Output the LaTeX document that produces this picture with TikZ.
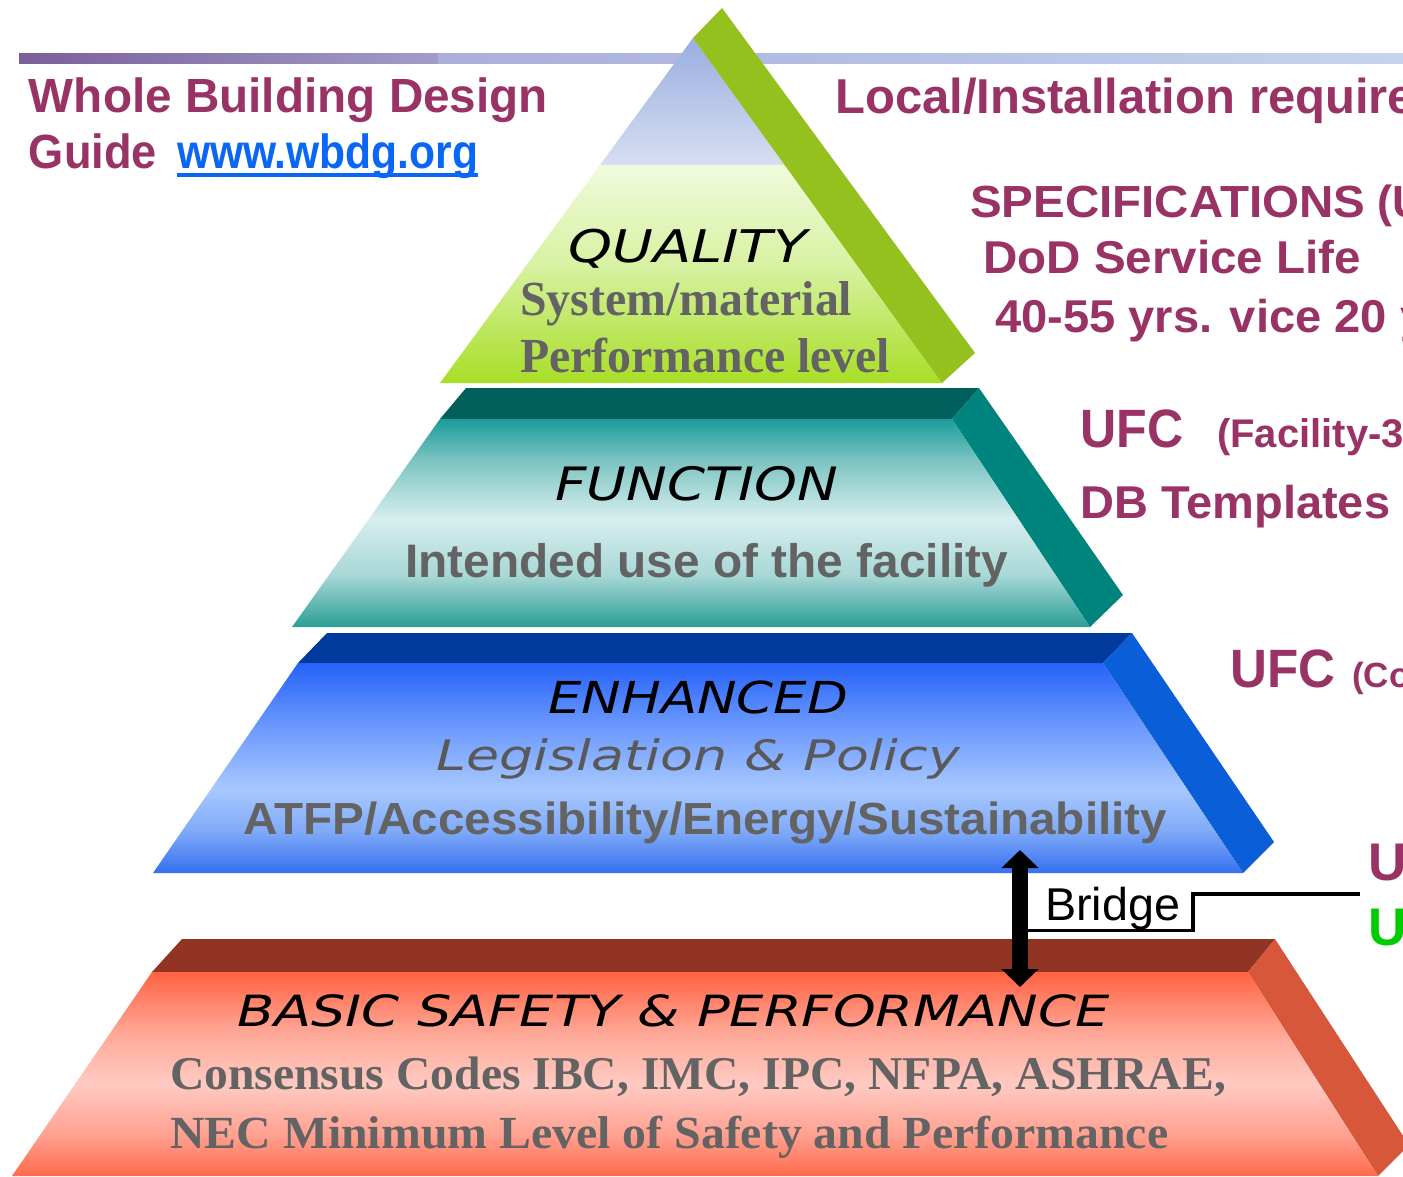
\documentclass[tikz,border=0pt]{standalone}
\usepackage{fontspec}
\setmainfont{Liberation Sans}
\newfontfamily\djv{DejaVu Sans}
\newfontfamily\lserif{Liberation Serif}
\usetikzlibrary{arrows.meta}
\definecolor{maroon}{HTML}{993366}
\definecolor{linkblue}{HTML}{0A66F5}
\definecolor{ugreen}{HTML}{00CC00}
\definecolor{txtgray}{HTML}{636363}
\definecolor{band1}{HTML}{7B5F9B}
\definecolor{band2}{HTML}{A29CC8}
\definecolor{band3}{HTML}{A9AEDB}
\definecolor{band4}{HTML}{C6D3EE}
\definecolor{lav1}{HTML}{98AEE0}
\definecolor{lav2}{HTML}{D8DEF2}
\definecolor{qg1}{HTML}{F0FADC}
\definecolor{qgm}{HTML}{D8F2A4}
\definecolor{qg2}{HTML}{A8DE26}
\definecolor{qside}{HTML}{95C11F}
\definecolor{ttop}{HTML}{005F5A}
\definecolor{tside}{HTML}{00857E}
\definecolor{tf1}{HTML}{1A9C9A}
\definecolor{tfa}{HTML}{7CC4C2}
\definecolor{tfm}{HTML}{D6EEEE}
\definecolor{tfb}{HTML}{A8D8D6}
\definecolor{tf2}{HTML}{2A9E96}
\definecolor{btop}{HTML}{003A9C}
\definecolor{bside}{HTML}{0A5FD8}
\definecolor{bf1}{HTML}{2562F8}
\definecolor{bfa}{HTML}{6090FC}
\definecolor{bfm}{HTML}{A8C8FF}
\definecolor{bfb}{HTML}{80AAF8}
\definecolor{bf2}{HTML}{3570F0}
\definecolor{rtop}{HTML}{923424}
\definecolor{rside}{HTML}{D6573A}
\definecolor{rf1}{HTML}{FF6242}
\definecolor{rfa}{HTML}{FFA898}
\definecolor{rfm}{HTML}{FFCAC2}
\definecolor{rfb}{HTML}{FFA090}
\definecolor{rf2}{HTML}{FF6A4A}
\pgfdeclareverticalshading{qsh}{100bp}{color(0bp)=(qg2); color(25bp)=(qg2); color(52.5bp)=(qgm); color(75bp)=(qg1); color(100bp)=(qg1)}
\pgfdeclareverticalshading{tsh}{100bp}{color(0bp)=(tf2); color(25bp)=(tf2); color(37.5bp)=(tfb); color(51bp)=(tfm); color(65bp)=(tfa); color(75bp)=(tf1); color(100bp)=(tf1)}
\pgfdeclareverticalshading{bsh}{100bp}{color(0bp)=(bf2); color(25bp)=(bf2); color(35bp)=(bfb); color(45bp)=(bfm); color(62.5bp)=(bfa); color(75bp)=(bf1); color(100bp)=(bf1)}
\pgfdeclareverticalshading{rsh}{100bp}{color(0bp)=(rf2); color(25bp)=(rf2); color(35bp)=(rfb); color(47.5bp)=(rfm); color(60bp)=(rfa); color(75bp)=(rf1); color(100bp)=(rf1)}
\newcommand\fitw[2]{\resizebox{#1pt}{\height}{#2}}
\newcommand\fs[1]{\fontsize{#1}{#1}\selectfont}
\tikzset{
  txt/.style={inner sep=0pt, anchor=base west},
  headtxt/.style={txt, text=maroon},
  obltxt/.style={txt, text=black},
  graytxt/.style={txt, text=txtgray},
  bridgearrow/.style={line width=16.5pt, {Triangle[width=36pt,length=18pt]}-{Triangle[width=36pt,length=18pt]}},
  callout/.style={line width=3.5pt, black},
  linkline/.style={line width=4pt, linkblue},
}
\begin{document}
\begin{tikzpicture}[x=1pt,y=-1pt]
\useasboundingbox (0,0) rectangle (1403,1176);
\clip (0,0) rectangle (1403,1176);
\fill[white] (0,0) rectangle (1403,1176);
% banner line
\shade[left color=band1,right color=band2] (19,53) rectangle (438,63);
\shade[left color=band3,right color=band4] (438,53) rectangle (1403,63);
% quality tier
\shade[top color=lav1,bottom color=lav2] (693,38) -- (785,165) -- (600,165) -- cycle;
\shade[shading=qsh] (600,165) -- (785,165) -- (942,383) -- (440,383) -- cycle;
\fill[qside] (693,38) -- (722,8) -- (975,353) -- (942,383) -- cycle;
% function tier
\fill[ttop] (466,388) -- (979,388) -- (952,419) -- (440,419) -- cycle;
\fill[tside] (979,388) -- (1123,595) -- (1090,627) -- (952,419) -- cycle;
\shade[shading=tsh] (440,419) -- (952,419) -- (1090,627) -- (292,627) -- cycle;
% enhanced tier
\fill[btop] (327,633) -- (1132,633) -- (1103,663) -- (298,663) -- cycle;
\fill[bside] (1132,633) -- (1274,842) -- (1243,873) -- (1103,663) -- cycle;
\shade[shading=bsh] (298,663) -- (1103,663) -- (1243,873) -- (153,873) -- cycle;
% basic tier
\fill[rtop] (182,939) -- (1275,939) -- (1248,972) -- (152,972) -- cycle;
\fill[rside] (1275,939) -- (1409,1145) -- (1378,1176) -- (1248,972) -- cycle;
\shade[shading=rsh] (152,972) -- (1248,972) -- (1378,1176) -- (12,1176) -- cycle;
% header texts
\node[headtxt, font={\fs{48}\bfseries}] (wbd) at (28.7,112) {\fitw{519}{Whole Building Design}};
\node[headtxt, font={\fs{48}\bfseries}] (guide) at (28.7,168) {\fitw{128}{Guide}};
\node[txt, text=linkblue, font={\fs{48}\bfseries}] (url) at (177,168) {\fitw{301}{www.wbdg.org}};
\draw[linkline] (177,175) -- (478,175);
\node[headtxt, font={\fs{49}\bfseries}] (local) at (835,113) {Local/Installation requirements};
\node[headtxt, font={\fs{45}\bfseries}] (spec) at (970,217) {\fitw{395}{SPECIFICATIONS}\ (UFGS)};
\node[headtxt, font={\fs{46}\bfseries}] (dod) at (983,273) {\fitw{378}{DoD Service Life}};
\node[headtxt, font={\fs{46}\bfseries}] (forty) at (995,332) {\fitw{392}{40-55 yrs. vice 20}\ yrs.};
\node[headtxt, font={\fs{54}\bfseries}] (ufca) at (1080,447) {\fitw{103}{UFC}};
\node[headtxt, font={\fs{40}\bfseries}] (facil) at (1217,447) {(Facility-3};
\node[headtxt, font={\fs{46}\bfseries}] (dbt) at (1080,518) {\fitw{310}{DB Templates}};
\node[headtxt, font={\fs{54}\bfseries}] (ufcb) at (1230,687) {\fitw{105}{UFC}};
\node[headtxt, font={\fs{35}\bfseries}] (core) at (1352,687) {(Co};
\node[headtxt, font={\fs{53}\bfseries}] (ua) at (1368,880) {U};
\node[txt, text=ugreen, font={\fs{53}\bfseries}] (ub) at (1368,945) {U};
% tier texts
\node[obltxt, font={\djv\itshape\fs{45}}] (quality) at (568,262) {\fitw{239}{QUALITY}};
\node[graytxt, font={\lserif\bfseries\fs{49}}] (sysmat) at (520,315) {\fitw{332}{System/material}};
\node[graytxt, font={\lserif\bfseries\fs{49}}] (perf) at (520,372) {\fitw{370}{Performance level}};
\node[obltxt, font={\djv\itshape\fs{46}}] (function) at (555,500) {\fitw{283}{FUNCTION}};
\node[graytxt, font={\bfseries\fs{47}}] (intended) at (405,577) {\fitw{603}{Intended use of the facility}};
\node[obltxt, font={\djv\itshape\fs{44}}] (enhanced) at (548,713) {\fitw{300}{ENHANCED}};
\node[txt, text=txtgray!90!black, font={\djv\itshape\fs{42}}] (legis) at (436,770) {\fitw{524}{Legislation \& Policy}};
\node[graytxt, font={\bfseries\fs{45}}] (atfp) at (243,834) {\fitw{924}{ATFP/Accessibility/Energy/Sustainability}};
\node[obltxt, font={\djv\itshape\fs{43}}] (basic) at (237,1026) {\fitw{873}{BASIC SAFETY \& PERFORMANCE}};
\node[graytxt, font={\lserif\bfseries\fs{47}}] (consensus) at (170,1089) {\fitw{1056}{Consensus Codes IBC, IMC, IPC, NFPA, ASHRAE,}};
\node[graytxt, font={\lserif\bfseries\fs{46}}] (nec) at (170,1148) {\fitw{998}{NEC Minimum Level of Safety and Performance}};
% bridge
\coordinate (arrtop) at (1020,850);
\coordinate (arrbot) at (1020,987);
\draw[bridgearrow] (arrtop) -- (arrbot);
\node[txt, text=black, font={\fs{46}}] (bridge) at (1045,920) {\fitw{135}{Bridge}};
\coordinate (cstart) at (1028,930.5);
\coordinate (cbend) at (1193,894);
\coordinate (cend) at (1360,894);
\draw[callout] (cstart) -| (cbend) -- (cend);
\end{tikzpicture}
\end{document}
